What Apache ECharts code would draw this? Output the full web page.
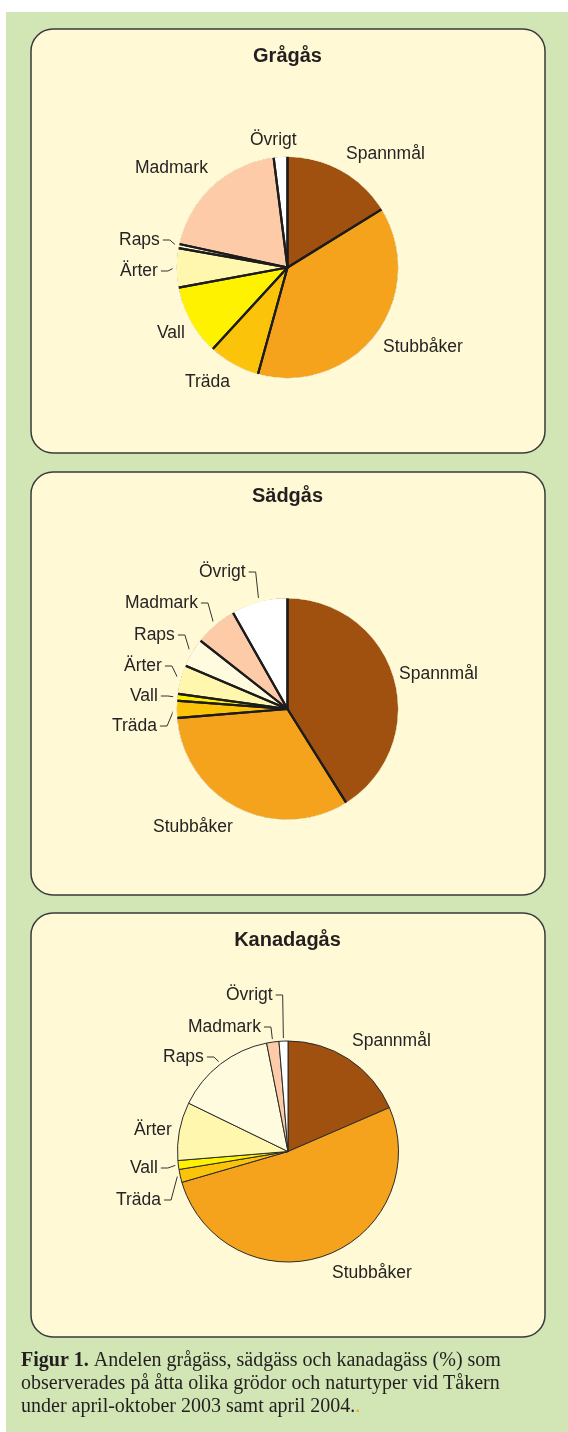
<!DOCTYPE html>
<html><head><meta charset="utf-8">
<script src="https://cdn.jsdelivr.net/npm/echarts@6/dist/echarts.min.js"></script>
<style>html,body{margin:0;padding:0;background:#fff;}#c{width:568px;height:1432px;}</style>
</head><body><div id="c"></div>
<script>
// ---- data ----
const categories = ['Spannmål', 'Stubbåker', 'Träda', 'Vall', 'Ärter', 'Raps', 'Madmark', 'Övrigt'];
const gragas    = [16.2, 38.1, 7.5, 10.3, 5.7, 0.6, 19.6, 2.0];
const sadgas    = [41.1, 32.6, 2.5, 1.0, 4.2, 4.2, 6.2, 8.2];
const kanadagas = [18.5, 52.0, 1.9, 1.3, 8.5, 14.7, 1.8, 1.3];
const chartTitles = ['Grågås', 'Sädgås', 'Kanadagås'];
const captionBold = 'Figur 1.';
const captionLines = [
  ' Andelen grågäss, sädgäss och kanadagäss (%) som',
  'observerades på åtta olika grödor och naturtyper vid Tåkern',
  'under april-oktober 2003 samt april 2004.'
];

// ---- styles / layout ----
const seriesVals = [gragas, sadgas, kanadagas];
const colors = ['#a0500f', '#f5a31c', '#fcc30b', '#fff200', '#fff7ae', '#fffbdf', '#fdcba7', '#ffffff'];
const panelFill = '#fffad5';
const FONT = '"Liberation Sans", Arial, Helvetica, sans-serif';
const SERIF = '"Liberation Serif", "Times New Roman", serif';
const R = 110.5;
const panels = [
  { y: 29,  h: 424, cx: 287.5, cy: 267.5,  ty: 56 },
  { y: 472, h: 423, cx: 287.5, cy: 709,    ty: 496 },
  { y: 913, h: 424, cx: 288,   cy: 1151.5, ty: 940 }
];
// label placement: [left x, middle y, has leader line]
const labelPos = [
  { 'Spannmål': [346, 154], 'Stubbåker': [383, 347], 'Träda': [185, 382], 'Vall': [157, 333],
    'Ärter': [120, 271, true], 'Raps': [119, 240, true], 'Madmark': [135, 168], 'Övrigt': [250, 140] },
  { 'Spannmål': [399, 674], 'Stubbåker': [153, 827], 'Träda': [112, 726, true], 'Vall': [130, 696, true],
    'Ärter': [124, 666, true], 'Raps': [134, 635, true], 'Madmark': [125, 603, true], 'Övrigt': [199, 572, true] },
  { 'Spannmål': [352, 1041], 'Stubbåker': [332, 1273], 'Träda': [116, 1200, true], 'Vall': [130, 1168, true],
    'Ärter': [134, 1130], 'Raps': [163, 1057, true], 'Madmark': [188, 1027, true], 'Övrigt': [226, 995, true] }
];

function edgePoint(s, idx, r) {
  const vals = seriesVals[s];
  const total = vals.reduce((a, b) => a + b, 0);
  let cum = 0;
  for (let i = 0; i < idx; i++) cum += vals[i];
  const a = (cum + vals[idx] / 2) / total * Math.PI * 2;
  return [panels[s].cx + r * Math.sin(a), panels[s].cy - r * Math.cos(a)];
}

function makeLayout(s) {
  return function (params) {
    const name = categories[params.dataIndex];
    const p = labelPos[s][name];
    const out = { x: p[0], y: p[1], align: 'left', verticalAlign: 'middle' };
    if (p[2]) {
      const right = p[0] + params.labelRect.width;
      out.labelLinePoints = [edgePoint(s, params.dataIndex, R + 3), [right + 10, p[1]], [right + 3, p[1]]];
    }
    return out;
  };
}

const series = [];
seriesVals.forEach((vals, s) => {
  const P = panels[s];
  const thick = s < 2;
  series.push({
    type: 'pie',
    center: [P.cx, P.cy],
    radius: [0, R],
    startAngle: 90,
    clockwise: true,
    avoidLabelOverlap: false,
    silent: true,
    data: categories.map((n, i) => ({
      name: n, value: vals[i],
      itemStyle: { color: colors[i] },
      labelLine: { show: !!labelPos[s][n][2] }
    })),
    itemStyle: thick ? { borderWidth: 0 } : { borderWidth: 1, borderColor: '#2a2a2a' },
    label: { show: true, formatter: '{b}', fontFamily: FONT, fontSize: 17.5, color: '#262324' },
    labelLine: { show: true, smooth: false, lineStyle: { color: '#333', width: 1 } },
    labelLayout: makeLayout(s)
  });
  if (thick) {
    // radial separators
    series.push({
      type: 'pie', center: [P.cx, P.cy], radius: [0, R + 1.5], startAngle: 90, silent: true,
      data: categories.map((n, i) => ({ name: n, value: vals[i] })),
      itemStyle: { color: 'rgba(0,0,0,0)', borderColor: '#1c1c1c', borderWidth: 2.2 },
      label: { show: false }, labelLine: { show: false }
    });
    // mask the outer arc stroke (no outline in the original)
    series.push({
      type: 'pie', center: [P.cx, P.cy], radius: [R + 0.2, R + 4.5], silent: true,
      data: [{ name: 'rim', value: 1, itemStyle: { color: panelFill } }],
      itemStyle: { borderWidth: 0 },
      label: { show: false }, labelLine: { show: false }
    });
  }
});

const graphic = [
  { type: 'rect', shape: { x: 6, y: 12, width: 562, height: 1420 }, style: { fill: '#d2e5b5' }, z: -10 }
];
panels.forEach((P, s) => {
  graphic.push({ type: 'rect', shape: { x: 31, y: P.y, width: 514, height: P.h, r: 22 },
    style: { fill: panelFill, stroke: '#3a3a3a', lineWidth: 1.5 }, z: -9 });
  graphic.push({ type: 'text', x: 287.5, y: P.ty, z: -8,
    style: { text: chartTitles[s], align: 'center', verticalAlign: 'middle', textAlign: 'center', textVerticalAlign: 'middle',
      fontFamily: FONT, fontSize: 20, fontWeight: 'bold', fill: '#231f20' } });
});
const capStyle = { fontFamily: SERIF, fontSize: 20, lineHeight: 23, fill: '#231f20' };
graphic.push({ type: 'text', x: 21, y: 1349.5, z: -8,
  style: Object.assign({
    text: '{b|' + captionBold + '}' + captionLines[0] + '\n' + captionLines[1] + '\n' + captionLines[2] + '{o|.}',
    align: 'left', verticalAlign: 'top', textAlign: 'left', textVerticalAlign: 'top',
    rich: {
      b: Object.assign({}, capStyle, { fontWeight: 'bold' }),
      o: Object.assign({}, capStyle, { fill: '#f0a81e' })
    }
  }, capStyle) });

const chart = echarts.init(document.getElementById('c'), null, { renderer: 'canvas' });
chart.setOption({
  animation: false,
  backgroundColor: '#ffffff',
  graphic: graphic,
  series: series
});
</script>
</body></html>
